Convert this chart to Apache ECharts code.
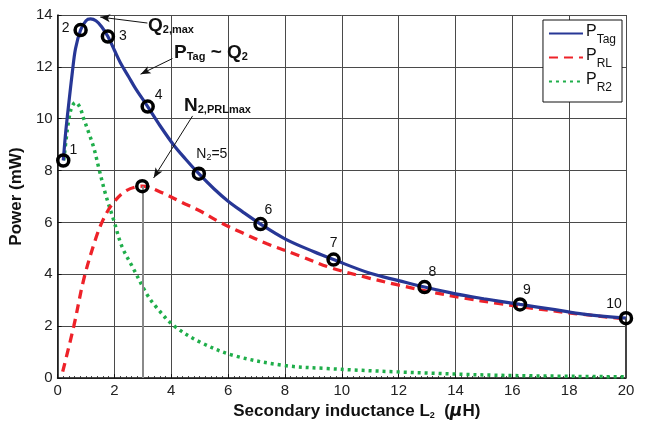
<!DOCTYPE html>
<html>
<head>
<meta charset="utf-8">
<script src="https://cdn.jsdelivr.net/npm/echarts@6/dist/echarts.min.js"></script>
<style>
  html, body { margin: 0; padding: 0; background: #fff; }
  #main { width: 645px; height: 425px; }
</style>
</head>
<body>
<div id="main"></div>
<script>
// P_Tag curve (mW) vs L2 (uH)
var tagL = [0.2, 0.25, 0.3, 0.4, 0.52, 0.63, 0.81, 1.0, 1.16, 1.35, 1.55, 1.77, 2.0, 2.21, 2.5, 2.74, 3.17, 3.6, 4.09, 4.5, 4.97, 5.5, 6.0, 6.5, 7.14, 8.0, 9.0, 9.71, 11.0, 12.0, 12.91, 14.0, 15.0, 16.27, 17.5, 18.5, 20];
var tagP = [8.39, 9.05, 9.65, 10.65, 11.8, 12.7, 13.42, 13.78, 13.85, 13.78, 13.55, 13.17, 12.64, 12.16, 11.62, 11.17, 10.47, 9.74, 8.98, 8.45, 7.88, 7.3, 6.82, 6.42, 5.94, 5.37, 4.88, 4.57, 4.04, 3.76, 3.51, 3.25, 3.06, 2.84, 2.64, 2.47, 2.31];

// P_RL curve
var rlL = [0.18, 0.57, 0.93, 1.34, 1.6, 1.92, 2.39, 2.98, 3.68, 4.38, 5.0, 5.73, 6.5, 7.37, 8.5, 9.6, 10.8, 11.94, 13.1, 14.28, 15.5, 16.6, 18.2, 20];
var rlP = [0.25, 2.0, 3.85, 5.37, 6.1, 6.7, 7.21, 7.4, 7.15, 6.77, 6.45, 6.0, 5.6, 5.18, 4.72, 4.26, 3.9, 3.6, 3.33, 3.09, 2.88, 2.71, 2.49, 2.28];

// P_R2 curve
var r2L = [0.22, 0.3, 0.4, 0.5, 0.63, 0.78, 0.92, 1.1, 1.28, 1.45, 1.69, 1.98, 2.27, 2.63, 3.15, 3.5, 4.09, 5.03, 6.2, 7.96, 9.48, 11.94, 15.46, 20];
var r2P = [8.4, 9.2, 10.0, 10.45, 10.63, 10.45, 10.0, 9.45, 8.86, 8.1, 7.08, 6.07, 5.06, 4.3, 3.22, 2.7, 2.02, 1.38, 0.87, 0.49, 0.37, 0.24, 0.11, 0.05];

// circled points N2 = 1..10
var markL = [0.2, 0.81, 1.77, 3.17, 4.97, 7.14, 9.71, 12.91, 16.27, 20];
var markP = [8.39, 13.42, 13.17, 10.47, 7.88, 5.94, 4.57, 3.51, 2.84, 2.31];
var markTags = ['1', '2', '3', '4', 'N2=5', '6', '7', '8', '9', '10'];

// P_RL maximum point
var prlMax = [2.98, 7.4];

var xTicks = { min: 0, max: 20, interval: 2 };
var yTicks = { min: 0, max: 14, interval: 2 };

// label placement around circles (px)
var tagOffsets = [[10, -10], [-15, -2], [15, 0], [11, -11], [13, -20], [8, -14], [0, -16], [8, -15], [7, -14], [-12, -14]];

var FONT = 'Liberation Sans, Arial, Helvetica, sans-serif';

function zip(a, b) {
  return a.map(function (v, i) { return [v, b[i]]; });
}

var markData = markL.map(function (v, i) {
  return {
    value: [v, markP[i]],
    label: { offset: tagOffsets[i] }
  };
});
markData.push({ value: prlMax, label: { show: false } });

var legendNames = { PTag: '{p|P}{s|Tag}', PRL: '{p|P}{s|RL}', PR2: '{p|P}{s|R2}' };

var chartDom = document.getElementById('main');
var myChart = echarts.init(chartDom);
var option;

option = {
  animation: false,
  backgroundColor: '#fff',
  grid: { left: 57, right: 19, top: 15, bottom: 42 },
  xAxis: {
    type: 'value',
    min: xTicks.min,
    max: xTicks.max,
    interval: xTicks.interval,
    name: '{b|Secondary inductance L}{sub|2}{b|  (}{mu|\u03bc}{b|H)}',
    nameLocation: 'middle',
    nameGap: 22,
    nameTextStyle: {
      padding: [0, 0, 0, 30],
      rich: {
        b: { fontFamily: FONT, fontWeight: 'bold', fontSize: 17, color: '#111' },
        sub: { fontFamily: FONT, fontWeight: 'bold', fontSize: 9, color: '#111', padding: [8, 0, 0, 0] },
        mu: { fontFamily: 'DejaVu Sans', fontStyle: 'italic', fontWeight: 'bold', fontSize: 17, color: '#111' }
      }
    },
    axisLine: { lineStyle: { color: '#111', width: 1.5 } },
    axisTick: { inside: true, length: 4, lineStyle: { color: '#111' } },
    minorTick: { show: true, splitNumber: 10, length: 2, lineStyle: { color: '#333' } },
    axisLabel: { fontFamily: FONT, fontSize: 15, color: '#222', margin: 5 },
    splitLine: { lineStyle: { color: '#4a4a4a', width: 1 } }
  },
  yAxis: {
    type: 'value',
    min: yTicks.min,
    max: yTicks.max,
    interval: yTicks.interval,
    name: 'Power (mW)',
    nameLocation: 'middle',
    nameRotate: 90,
    nameGap: 23,
    nameTextStyle: { fontFamily: FONT, fontWeight: 'bold', fontSize: 17, color: '#111' },
    axisLine: { show: true, lineStyle: { color: '#111', width: 1.5 } },
    axisTick: { show: true, inside: true, length: 4, lineStyle: { color: '#111' } },
    axisLabel: { fontFamily: FONT, fontSize: 15, color: '#222', margin: 5 },
    splitLine: { lineStyle: { color: '#4a4a4a', width: 1 } }
  },
  legend: {
    orient: 'vertical',
    right: 23,
    top: 20,
    backgroundColor: '#fff',
    borderColor: '#111',
    borderWidth: 1,
    borderRadius: 0,
    padding: [4, 6, 8, 5],
    itemWidth: 34,
    itemHeight: 12,
    itemGap: 2,
    itemStyle: { opacity: 0 },
    data: ['PTag', 'PRL', 'PR2'],
    formatter: function (name) { return legendNames[name]; },
    textStyle: {
      padding: [0, 0, 0, -2],
      rich: {
        p: { fontFamily: FONT, fontSize: 16, color: '#111', padding: [0, 0, 3, 0] },
        s: { fontFamily: FONT, fontSize: 12, color: '#111', padding: [13, 0, 0, 0] }
      }
    }
  },
  series: [
    {
      name: 'PR2',
      type: 'line',
      data: zip(r2L, r2P),
      smooth: 0.35,
      symbol: 'none',
      z: 2,
      lineStyle: { color: '#1fae4a', width: 3.5, type: [3, 4] },
      itemStyle: { color: '#1fae4a' }
    },
    {
      name: 'PRL',
      type: 'line',
      data: zip(rlL, rlP),
      smooth: 0.35,
      symbol: 'none',
      z: 3,
      lineStyle: { color: '#ee2229', width: 3.3, type: [9, 6] },
      itemStyle: { color: '#ee2229' }
    },
    {
      name: 'PTag',
      type: 'line',
      data: zip(tagL, tagP),
      smooth: 0.35,
      symbol: 'none',
      z: 4,
      lineStyle: { color: '#273796', width: 3.2 },
      itemStyle: { color: '#273796' }
    },
    {
      name: 'points',
      type: 'scatter',
      data: markData,
      z: 6,
      symbol: 'circle',
      symbolSize: 11,
      silent: true,
      itemStyle: { color: 'rgba(255,255,255,0)', borderColor: '#000', borderWidth: 3.5, opacity: 1 },
      label: {
        show: true,
        position: 'inside',
        fontFamily: FONT,
        fontSize: 14,
        color: '#111',
        formatter: function (p) {
          var t = markTags[p.dataIndex];
          return t === 'N2=5' ? '{n|N}{s|2}{n|=5}' : t;
        },
        rich: {
          n: { fontFamily: FONT, fontSize: 14, color: '#111' },
          s: { fontFamily: FONT, fontSize: 9, color: '#111', padding: [8, 0, 0, 0] }
        }
      },
      markLine: {
        silent: true,
        animation: false,
        label: { show: false },
        symbol: ['none', 'none'],
        data: [
          [
            { coord: [prlMax[0], 0], lineStyle: { color: '#8a8a8a', width: 2, type: 'solid' } },
            { coord: prlMax }
          ],
          [
            { coord: [markL[9], 0], lineStyle: { color: '#444', width: 2, type: 'solid' } },
            { coord: [markL[9], markP[9]] }
          ],
          [
            { coord: [3.16, 13.69], symbol: 'none', lineStyle: { color: '#111', width: 1, type: 'solid' } },
            { coord: [1.5, 13.92], symbol: 'arrow', symbolSize: [6, 10] }
          ],
          [
            { coord: [4.04, 12.32], symbol: 'none', lineStyle: { color: '#111', width: 1, type: 'solid' } },
            { coord: [2.92, 11.72], symbol: 'arrow', symbolSize: [6, 10] }
          ],
          [
            { coord: [4.75, 10.11], symbol: 'none', lineStyle: { color: '#111', width: 1, type: 'solid' } },
            { coord: [3.38, 7.72], symbol: 'arrow', symbolSize: [6, 10] }
          ]
        ]
      }
    }
  ],
  graphic: {
    elements: [
      {
        type: 'text',
        left: 148,
        top: 16,
        z: 10,
        style: {
          text: '{a|Q}{b|2,max}',
          rich: {
            a: { fontFamily: FONT, fontWeight: 'bold', fontSize: 19, fill: '#111' },
            b: { fontFamily: FONT, fontWeight: 'bold', fontSize: 11, fill: '#111', padding: [9, 0, 0, 0] }
          }
        }
      },
      {
        type: 'text',
        left: 174,
        top: 43,
        z: 10,
        style: {
          text: '{a|P}{b|Tag}{a| ~ Q}{b|2}',
          rich: {
            a: { fontFamily: FONT, fontWeight: 'bold', fontSize: 19, fill: '#111' },
            b: { fontFamily: FONT, fontWeight: 'bold', fontSize: 11, fill: '#111', padding: [9, 0, 0, 0] }
          }
        }
      },
      {
        type: 'text',
        left: 184,
        top: 96,
        z: 10,
        style: {
          text: '{a|N}{b|2,PRLmax}',
          rich: {
            a: { fontFamily: FONT, fontWeight: 'bold', fontSize: 19, fill: '#111' },
            b: { fontFamily: FONT, fontWeight: 'bold', fontSize: 11, fill: '#111', padding: [9, 0, 0, 0] }
          }
        }
      }
    ]
  }
};

option && myChart.setOption(option);
</script>
</body>
</html>
